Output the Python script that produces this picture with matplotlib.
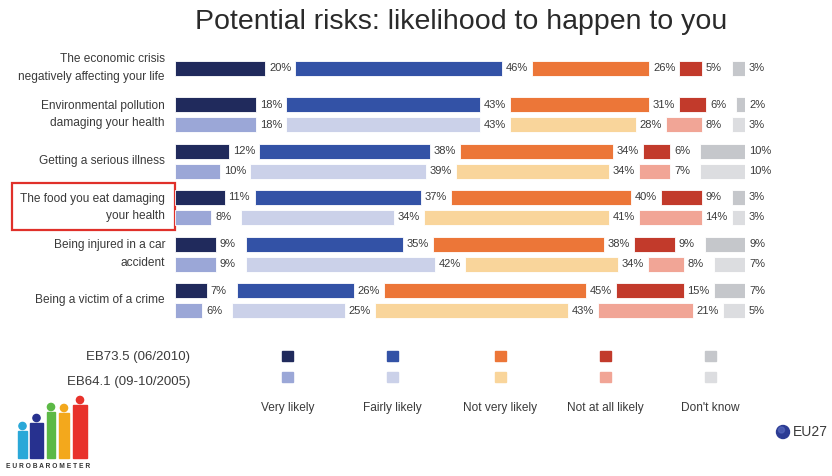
import numpy as np
import matplotlib.pyplot as plt
from matplotlib.patches import Rectangle, Circle

# data (EU27, % of answers)
risks = ['The economic crisis\nnegatively affecting your life',
         'Environmental pollution\ndamaging your health',
         'Getting a serious illness',
         'The food you eat damaging\nyour health',
         'Being injured in a car\naccident',
         'Being a victim of a crime']
answers = ['Very likely', 'Fairly likely', 'Not very likely', 'Not at all likely', "Don't know"]
waves = ['EB73.5 (06/2010)', 'EB64.1 (09-10/2005)']

wave_2010 = [[20, 46, 26, 5, 3],
             [18, 43, 31, 6, 2],
             [12, 38, 34, 6, 10],
             [11, 37, 40, 9, 3],
             [9, 35, 38, 9, 9],
             [7, 26, 45, 15, 7]]
wave_2005 = [None,
             [18, 43, 28, 8, 3],
             [10, 39, 34, 7, 10],
             [8, 34, 41, 14, 3],
             [9, 42, 34, 8, 7],
             [6, 25, 43, 21, 5]]

colors_2010 = ['#202a5c', '#3352a6', '#ec7638', '#c23a2b', '#c5c7cb']
colors_2005 = ['#9ba7d7', '#cbd1e9', '#f9d59b', '#f1a596', '#dcdde0']

font = ['Liberation Sans', 'DejaVu Sans']
txt = '#3a3a3a'

W, H = 832, 476
fig = plt.figure(figsize=(W / 100, H / 100), dpi=100)
fig.patch.set_facecolor('white')

# overlay in pixel units for the decorations (box, legend keys, logo)
deco = fig.add_axes([0, 0, 1, 1])
deco.set_xlim(0, W)
deco.set_ylim(H, 0)
deco.axis('off')

# main panel: x in % with a fixed label gap between answer blocks
px_per_pct = 4.5
gap = 30 / px_per_pct
row_px = 46.5
ax = fig.add_axes([175 / W, 1 - 330 / H, 570 / W, 285 / H])
ax.set_xlim(0, 570 / px_per_pct)
ax.set_ylim((330 - 68) / row_px, (45 - 68) / row_px)
ax.axis('off')

bar_h = 15 / row_px
off = 10 / row_px

def draw_row(vals, y, colors):
    start = 0
    for k, v in enumerate(vals):
        ax.barh(y, v, left=start, height=bar_h, color=colors[k],
                edgecolor='white', linewidth=0.6)
        ax.text(start + v + 4 / px_per_pct, y, f'{v}%', ha='left', va='center',
                fontsize=8, color=txt, family=font)
        start += v + gap

for i, risk in enumerate(risks):
    if wave_2005[i] is None:
        draw_row(wave_2010[i], i, colors_2010)
    else:
        draw_row(wave_2010[i], i - off, colors_2010)
        draw_row(wave_2005[i], i + off, colors_2005)
    ax.text(-10 / px_per_pct, i, risk, ha='right', va='center', fontsize=8.6,
            color=txt, family=font, linespacing=1.65)

# highlight box around the food item
deco.add_patch(Rectangle((12, 183), 163, 47, fill=False,
                         edgecolor='#e0302a', linewidth=1.6))

fig.text(461 / W, 1 - 22 / H, 'Potential risks: likelihood to happen to you',
         ha='center', va='center', fontsize=20.5, color='#2a2a2a', family=font)

# legend
leg_x = [287.5, 392.5, 500, 605, 710]
for k, name in enumerate(answers):
    for cols, yc in zip([colors_2010, colors_2005], [356, 377]):
        deco.add_patch(Rectangle((leg_x[k] - 5.5, yc - 5), 11, 10, color=cols[k]))
    deco.text(leg_x[k], 408, name, ha='center', va='center',
              fontsize=8.6, color=txt, family=font)
for w, yc in zip(waves, [357, 382]):
    deco.text(190, yc, w, ha='right', va='center',
              fontsize=9.5, color=txt, family=font)

# EU27 marker
deco.add_patch(Circle((783, 432), 6.5, color='#2c3c94'))
deco.add_patch(Circle((781.5, 430), 3, color='#5a6cc0', alpha=0.6))
deco.text(793, 432, 'EU27', ha='left', va='center', fontsize=10,
          color=txt, family=font)

# Eurobarometer logo
logo_cols = ['#2aa8d8', '#27318f', '#5cb946', '#f3a81c', '#e8322b']
logo_x = [18, 30, 47, 59, 73]
logo_w = [9, 13, 8, 10, 14]
logo_top = [431, 423, 412, 413, 405]
for c, x0, w, t in zip(logo_cols, logo_x, logo_w, logo_top):
    deco.add_patch(Rectangle((x0, t), w, 458 - t, color=c))
    deco.add_patch(Circle((x0 + w / 2, t - 5), 3.6, color=c))
deco.text(48, 467, 'E U R O B A R O M E T E R', ha='center', va='center', fontsize=4.8,
          color='#333333', family=font, fontweight='bold')

fig.savefig('out.png', dpi=100, facecolor='white')
